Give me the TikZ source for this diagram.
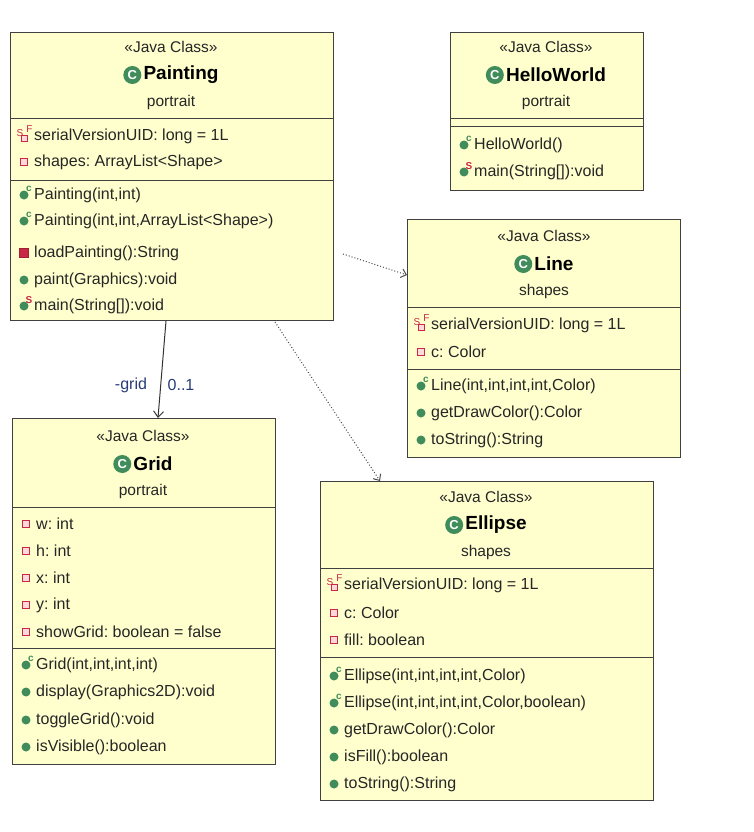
\documentclass[tikz,border=0pt]{standalone}
\usepackage{fontspec}
\setmainfont{Liberation Sans}
\usetikzlibrary{arrows.meta}
\frenchspacing
\begin{document}
\frenchspacing
\begin{tikzpicture}[x=1pt,y=-1pt,
  box/.style={draw=black!75,fill=boxy,line width=0.8pt},
  sep/.style={draw=black!75,line width=0.8pt},
  mt/.style={anchor=west,inner sep=0pt,font=\fontsize{16}{18}\selectfont,text=black!85},
  ct/.style={inner sep=0pt,font=\fontsize{15.5}{18}\selectfont,text=black!85},
  nt/.style={inner sep=0pt,font=\fontsize{19}{21}\selectfont\bfseries},
  lbl/.style={inner sep=0pt,font=\fontsize{16}{18}\selectfont,text=lblue},
  dep/.style={draw=black!70,line width=1pt,dotted,-{Straight Barb[length=5pt,width=9pt]}},
  asc/.style={draw=black!80,line width=1pt,-{Straight Barb[length=6pt,width=10pt]}},
  pub/.pic={\fill[gdot] (0,0) circle (4.5);},
  ctor/.pic={\fill[gdot] (0,0) circle (4.5);\node[inner sep=0pt,text=gdot,font=\fontsize{10}{10}\selectfont\bfseries] at (5,-6) {c};},
  stat/.pic={\fill[gdot] (0,0) circle (4.5);\node[inner sep=0pt,text=rsq,font=\fontsize{10}{10}\selectfont\bfseries] at (5,-6) {S};},
  fpriv/.pic={\draw[rsq,fill=pink!60,line width=1pt] (-3.3,-3.3) rectangle (3.3,3.3);},
  mpriv/.pic={\draw[rsq!80!black,fill=rsq,line width=0.8pt] (-4.5,-4.5) rectangle (4.5,4.5);},
  sf/.pic={\draw[rsq,fill=pink!60,line width=0.9pt] (-3,-0.5) rectangle (3,5.5);
     \node[inner sep=0pt,text=rsq,font=\fontsize{10}{10}\selectfont] at (-4,-3) {S};
     \node[inner sep=0pt,text=rsq,font=\fontsize{10}{10}\selectfont] at (5.5,-7) {F};},
  cls/.pic={\fill[gdot] (0,0) circle (9);\node[inner sep=0pt,text=white,font=\fontsize{13}{13}\selectfont\bfseries] at (0,0) {C};}
]
\definecolor{boxy}{RGB}{255,255,206}
\definecolor{gdot}{RGB}{64,140,90}
\definecolor{rsq}{RGB}{200,40,70}
\definecolor{lblue}{RGB}{40,60,120}
\newcommand\mem[5]{\node[mt] (#1) at (#2+18,#3) {#5}; \pic at (#2+8,#3) {#4};}
\newcommand\hdr[6]{% prefix, cx, y, name, package, x-shift of name
  \node[ct] (#1st) at (#2,#3) {\textless\textless Java Class\textgreater\textgreater};
  \node[nt] (#1nm) at (#2+#6,#3+28) {#4};
  \pic at ([xshift=-11pt]#1nm.west) {cls};
  \node[ct] (#1pk) at (#2,#3+55) {#5};}
\useasboundingbox (0,0) rectangle (754,832);

% Painting
\draw[box] (10,32) rectangle (333,320);
\draw[sep] (10,118) -- (333,118); \draw[sep] (10,180) -- (333,180);
\hdr{p}{171}{47}{Painting}{portrait}{10}
\mem{p1}{16}{136}{sf}{serialVersionUID: long = 1L}
\mem{p2}{16}{162}{fpriv}{shapes: ArrayList<Shape>}
\mem{p3}{16}{195}{ctor}{Painting(int,int)}
\mem{p4}{16}{221}{ctor}{Painting(int,int,ArrayList<Shape>)}
\mem{p5}{16}{253}{mpriv}{loadPainting():String}
\mem{p6}{16}{280}{pub}{paint(Graphics):void}
\mem{p7}{16}{306}{stat}{main(String[]):void}

% HelloWorld
\draw[box] (450,32) rectangle (643,190);
\draw[sep] (450,118) -- (643,118); \draw[sep] (450,126) -- (643,126);
\hdr{h}{546}{47}{HelloWorld}{portrait}{10}
\mem{h1}{456}{145}{ctor}{HelloWorld()}
\mem{h2}{456}{172}{stat}{main(String[]):void}

% Line
\draw[box] (407,219) rectangle (680,457);
\draw[sep] (407,307) -- (680,307); \draw[sep] (407,369) -- (680,369);
\hdr{l}{544}{236}{Line}{shapes}{10}
\mem{l1}{413}{325}{sf}{serialVersionUID: long = 1L}
\mem{l2}{413}{352}{fpriv}{c: Color}
\mem{l3}{413}{386}{ctor}{Line(int,int,int,int,Color)}
\mem{l4}{413}{413}{pub}{getDrawColor():Color}
\mem{l5}{413}{440}{pub}{toString():String}

% Grid
\draw[box] (12,418) rectangle (275,764);
\draw[sep] (12,507) -- (275,507); \draw[sep] (12,648) -- (275,648);
\hdr{g}{143}{436}{Grid}{portrait}{10}
\mem{g1}{18}{524}{fpriv}{w: int}
\mem{g2}{18}{551}{fpriv}{h: int}
\mem{g3}{18}{578}{fpriv}{x: int}
\mem{g4}{18}{605}{fpriv}{y: int}
\mem{g5}{18}{632}{fpriv}{showGrid: boolean = false}
\mem{g6}{18}{665}{ctor}{Grid(int,int,int,int)}
\mem{g7}{18}{692}{pub}{display(Graphics2D):void}
\mem{g8}{18}{720}{pub}{toggleGrid():void}
\mem{g9}{18}{747}{pub}{isVisible():boolean}

% Ellipse
\draw[box] (320,481) rectangle (653,800);
\draw[sep] (320,568) -- (653,568); \draw[sep] (320,657) -- (653,657);
\hdr{e}{486}{497}{Ellipse}{shapes}{10}
\mem{e1}{326}{585}{sf}{serialVersionUID: long = 1L}
\mem{e2}{326}{613}{fpriv}{c: Color}
\mem{e3}{326}{640}{fpriv}{fill: boolean}
\mem{e4}{326}{676}{ctor}{Ellipse(int,int,int,int,Color)}
\mem{e5}{326}{703}{ctor}{Ellipse(int,int,int,int,Color,boolean)}
\mem{e6}{326}{730}{pub}{getDrawColor():Color}
\mem{e7}{326}{757}{pub}{isFill():boolean}
\mem{e8}{326}{784}{pub}{toString():String}

% connectors
\coordinate (a1) at (166,321); \coordinate (a2) at (158,418);
\draw[asc] (a1) -- (a2);
\node[lbl] (glab) at (131,385) {-grid};
\node[lbl] (mlab) at (181,385) {0..1};
\coordinate (d1) at (343,254); \coordinate (d2) at (407,275);
\draw[dep] (d1) -- (d2);
\coordinate (d3) at (275,322); \coordinate (d4) at (380,481);
\draw[dep] (d3) -- (d4);
\end{tikzpicture}
\end{document}
